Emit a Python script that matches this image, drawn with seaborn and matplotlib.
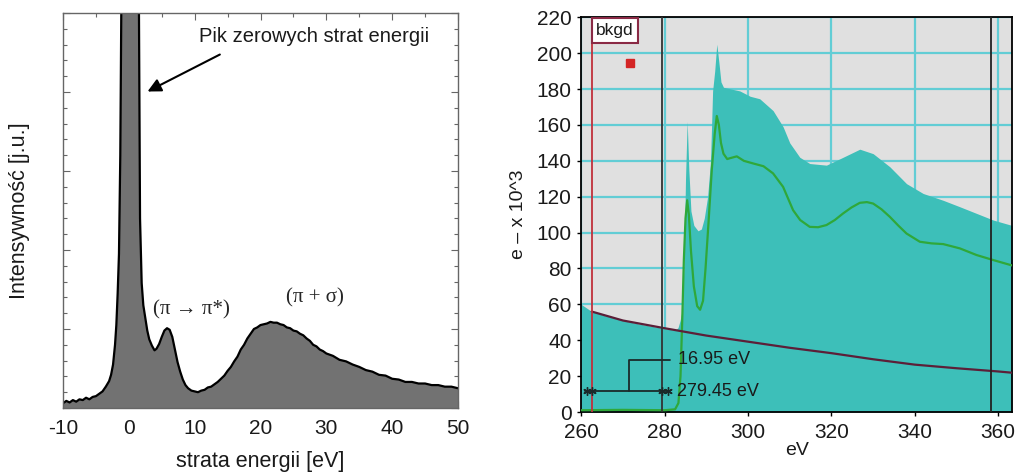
import numpy as np
import pandas as pd
import matplotlib
matplotlib.use("Agg")
import matplotlib.pyplot as plt
import seaborn as sns
from matplotlib.patches import Rectangle
from matplotlib.ticker import MultipleLocator

# ---- left panel: low-loss spectrum ----
loss_ev = [-10, -9.5, -9, -8.5, -8, -7.5, -7, -6.5, -6, -5.5, -5, -4.5, -4, -3.5, -3,
           -2.7, -2.4, -2.1, -1.9, -1.7, -1.5, -1.3, -1.1, -0.6, 0.2, 0.9, 1.5, 1.7,
           1.95, 2.2, 2.5, 2.8, 3.1, 3.5, 3.9, 4.2, 4.6, 5.0, 5.4, 5.8, 6.2, 6.6, 7.0,
           7.4, 7.8, 8.2, 8.6, 9.0, 9.5, 10.0, 10.5, 11.0, 11.5, 12.0, 12.5, 13.0,
           13.5, 14.0, 14.5, 15.0, 15.5, 16.0, 16.5, 17.0, 17.5, 18.0, 18.5, 19.0,
           19.5, 20.0, 20.5, 21.0, 21.5, 22.0, 22.5, 23.0, 23.5, 24.0, 24.5, 25.0,
           25.5, 26.0, 26.5, 27.0, 27.5, 28.0, 28.5, 29.0, 29.5, 30.0, 31, 32, 33,
           34, 35, 36, 37, 38, 39, 40, 41, 42, 43, 44, 45, 46, 47, 48, 49, 50]
loss_int = [0.06, 0.09, 0.07, 0.10, 0.08, 0.11, 0.10, 0.13, 0.11, 0.14, 0.15, 0.18,
            0.21, 0.27, 0.34, 0.42, 0.55, 0.80, 1.05, 1.45, 1.95, 3.2, 5.6, 9.5, 12.0,
            9.0, 5.6, 2.4, 1.58, 1.30, 1.14, 0.98, 0.87, 0.79, 0.73, 0.75, 0.81, 0.90,
            0.98, 1.01, 0.99, 0.90, 0.74, 0.58, 0.46, 0.36, 0.29, 0.25, 0.22, 0.21,
            0.20, 0.22, 0.23, 0.26, 0.27, 0.30, 0.33, 0.37, 0.41, 0.47, 0.52, 0.59,
            0.65, 0.74, 0.80, 0.88, 0.94, 1.00, 1.02, 1.05, 1.06, 1.07, 1.09, 1.08,
            1.08, 1.06, 1.05, 1.02, 1.01, 0.98, 0.97, 0.94, 0.92, 0.88, 0.85, 0.80,
            0.78, 0.74, 0.72, 0.69, 0.66, 0.61, 0.59, 0.55, 0.52, 0.48, 0.46, 0.42,
            0.41, 0.37, 0.36, 0.33, 0.33, 0.31, 0.31, 0.29, 0.29, 0.27, 0.27, 0.25]

# ---- right panel: carbon K edge ----
edge_ev = [260, 262.5, 266, 270, 274, 278, 280, 282.5, 283.2, 283.7, 284.3, 284.7,
           285.0, 285.4, 285.8, 286.3, 287, 288, 288.8, 289.5, 290.3, 291, 291.5,
           292, 292.5, 293, 293.5, 294.1, 296, 298, 300.5, 302.8, 306, 308.4, 310,
           312.4, 314.8, 318.8, 322.8, 326.8, 330, 334, 338, 342, 346.8, 350.8,
           354.8, 358.8, 363.3]
edge_counts = [60, 56, 53.5, 51, 49, 47.3, 46.5, 45.6, 47, 51, 58, 90, 130, 162, 135,
               112, 104, 101, 102, 108, 120, 140, 179, 190, 205, 195, 184, 181, 180,
               179, 176, 174.6, 168, 159, 150, 142, 138.5, 137.6, 142, 146.5, 144,
               136.7, 127.3, 121.8, 118, 114.4, 110.7, 107, 104]

mean_ev = [260, 270, 280, 282.5, 283.3, 283.8, 284.2, 284.6, 285.0, 285.4, 285.8,
           286.3, 287, 287.8, 288.5, 289.2, 289.8, 290.5, 291.3, 292, 292.5, 293,
           293.5, 294.1, 295, 295.7, 297.3, 299, 301.3, 303.7, 306, 308.4, 310.8,
           312.5, 314.8, 316.8, 318.8, 320.8, 322.8, 324.8, 326.8, 328.5, 330, 332,
           334, 336, 338, 341.2, 344, 346.8, 350.8, 354.8, 358.8, 363.3]
mean_counts = [1.0, 1.2, 1.0, 1.5, 5, 20, 50, 85, 108, 118, 110, 90, 70, 59, 57, 62,
               80, 105, 135, 155, 165, 160, 150, 144, 141, 141.5, 142.5, 140, 138.5,
               137, 133, 125.5, 112.5, 107, 103.2, 103, 104.2, 107, 110.7, 114, 116.6,
               117, 116.2, 113, 108.8, 104, 99.5, 94.9, 94, 93.6, 91.2, 87.5, 84.7, 81.7]

bkgd_ev = [262.5, 270, 280, 290, 300, 310, 320, 330, 340, 350, 360, 363.3]
bkgd_counts = [56, 51, 46.7, 42.6, 39.2, 35.8, 32.8, 29.4, 26.4, 24.4, 22.6, 21.9]

window_lo, window_hi, edge_marker = 262.5, 279.45, 358.2

left_df = pd.DataFrame({"ev": loss_ev, "y": loss_int})
edge_df = pd.DataFrame({"ev": edge_ev, "y": edge_counts})
mean_df = pd.DataFrame({"ev": mean_ev, "y": mean_counts})
bkgd_df = pd.DataFrame({"ev": bkgd_ev, "y": bkgd_counts})

sns.set_theme(style="white")
plt.rcParams["font.family"] = ["Liberation Sans", "DejaVu Sans"]
plt.rcParams["axes.unicode_minus"] = False
serif = ["Liberation Serif", "DejaVu Serif"]

fig = plt.figure(figsize=(10.18, 4.72), dpi=100)
ax1 = fig.add_axes([0.0619, 0.1356, 0.3880, 0.8369])
ax2 = fig.add_axes([0.5710, 0.1271, 0.4231, 0.8362])

# ---- left ----
ax1.fill_between(left_df["ev"], 0, left_df["y"], color="#727272", lw=0)
sns.lineplot(data=left_df, x="ev", y="y", ax=ax1, color="black", lw=1.6)
ax1.set_xlim(-10, 50)
ax1.set_ylim(0, 5)
ax1.xaxis.set_major_locator(MultipleLocator(10))
ax1.xaxis.set_minor_locator(MultipleLocator(5))
ax1.yaxis.set_major_locator(MultipleLocator(1))
ax1.yaxis.set_minor_locator(MultipleLocator(0.2))
ax1.tick_params(which="both", direction="in", top=True, right=True, left=True,
                bottom=True, colors="#666666", labelcolor="#1a1a1a")
ax1.tick_params(which="major", length=5, width=0.8, labelsize=15, pad=8)
ax1.tick_params(which="minor", length=3, width=0.8)
ax1.set_yticklabels([])
for s in ax1.spines.values():
    s.set_color("#666666")
    s.set_linewidth(1.0)
ax1.set_xlabel("strata energii [eV]", fontsize=15.5, labelpad=9, color="#1a1a1a")
ax1.set_ylabel("Intensywność [j.u.]", fontsize=15.5, labelpad=16, color="#1a1a1a")
ax1.annotate("", xy=(2.46, 3.99), xytext=(14.2, 4.49),
             arrowprops=dict(arrowstyle="-|>", lw=1.5, color="black", mutation_scale=20))
ax1.text(10.7, 4.70, "Pik zerowych strat energii", fontsize=14.5, ha="left",
         va="center", color="#1a1a1a")
ax1.text(9.5, 1.24, "(π → π*)", fontsize=15, ha="center", va="center", family=serif)
ax1.text(28.3, 1.39, "(π + σ)", fontsize=15, ha="center", va="center", family=serif)

# ---- right ----
ax2.set_facecolor("#e0e0e0")
ax2.set_xlim(260, 363.3)
ax2.set_ylim(0, 220)
ax2.xaxis.set_major_locator(MultipleLocator(20))
ax2.yaxis.set_major_locator(MultipleLocator(20))
ax2.grid(True, color="#62cdd5", lw=1.6)
ax2.set_axisbelow(True)
ax2.fill_between(edge_df["ev"], 0, edge_df["y"], color="#3dbfb9", lw=0, zorder=2)
sns.lineplot(data=mean_df, x="ev", y="y", ax=ax2, color="#2fa83a", lw=1.6, zorder=3)
sns.lineplot(data=bkgd_df, x="ev", y="y", ax=ax2, color="#5c1f38", lw=1.6, zorder=4)
ax2.axvline(window_lo, color="#c0303c", lw=1.3, zorder=5)
ax2.axvline(window_hi, color="#333333", lw=1.3, zorder=5)
ax2.axvline(edge_marker, color="#222222", lw=1.3, zorder=5)
ax2.add_patch(Rectangle((window_lo, 205.6), 11.1, 14.2, facecolor="white",
                        edgecolor="#8a2a45", lw=1.5, zorder=6))
ax2.text(window_lo + 5.55, 212.4, "bkgd", fontsize=12.5, ha="center", va="center",
         color="#1a1a1a", zorder=7)
ax2.plot([271.8], [194.5], marker="s", ms=6, color="#d42525", zorder=6)

# window width marker
ax2.plot([260.9, 281.3], [11.9, 11.9], color="#1a2a2a", lw=1.3, zorder=6)
ax2.plot([261.4, window_lo, window_hi, 280.9], [11.9] * 4, ls="none",
         marker=(6, 2, 0), ms=6, mew=1.0, color="#1a2a2a", zorder=6)
ax2.plot([271.4, 271.4, 281.3], [11.9, 29.0, 29.0], color="#1a2a2a", lw=1.3, zorder=6)
ax2.text(283.3, 29.0, "%.2f eV" % (window_hi - window_lo), fontsize=13,
         ha="left", va="center", color="#1a1a1a", zorder=7)
ax2.text(282.9, 11.3, "%.2f eV" % window_hi, fontsize=13, ha="left", va="center",
         color="#1a1a1a", zorder=7)

ax2.tick_params(which="major", direction="out", length=3, width=1, colors="black",
                labelsize=15, left=True, bottom=True, labelcolor="#1a1a1a")
ax2.tick_params(axis="x", pad=5)
ax2.tick_params(axis="y", pad=4)
for s in ax2.spines.values():
    s.set_color("black")
    s.set_linewidth(1.3)
ax2.set_xlabel("eV", fontsize=14, labelpad=0, color="#1a1a1a")
ax2.set_ylabel("e – x 10^3", fontsize=14, labelpad=7, color="#1a1a1a")

fig.savefig("out.png", dpi=100)
